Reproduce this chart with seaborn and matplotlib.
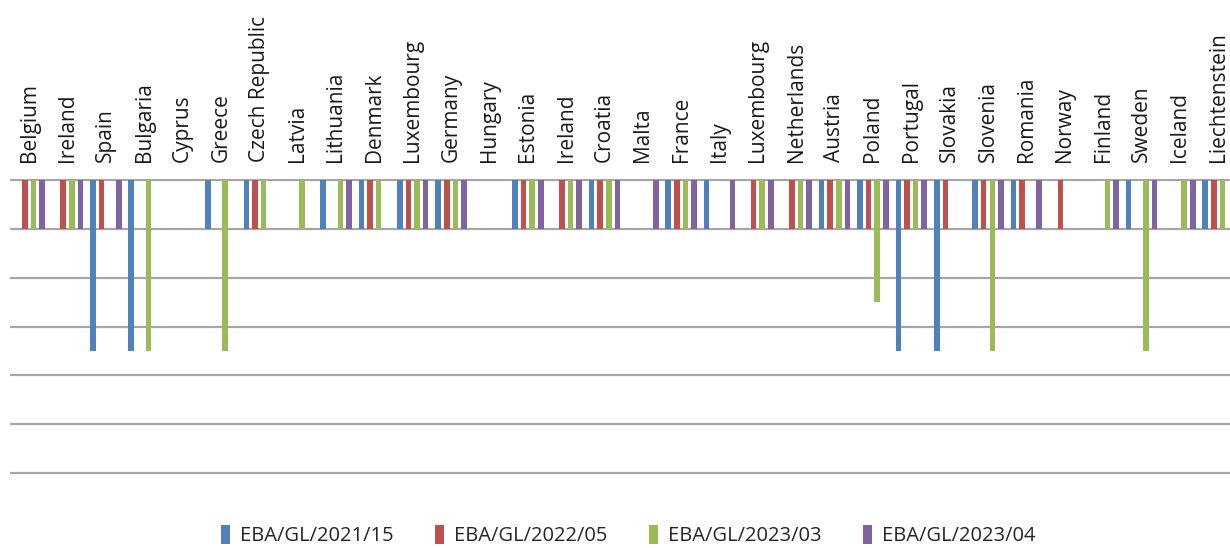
import matplotlib
matplotlib.use("Agg")
import matplotlib.pyplot as plt
import seaborn as sns
import pandas as pd
import numpy as np

# Countries in reporting order (some appear twice, one entry per guideline batch)
countries = [
    "Belgium", "Ireland", "Spain", "Bulgaria", "Cyprus", "Greece",
    "Czech Republic", "Latvia", "Lithuania", "Denmark", "Luxembourg",
    "Germany", "Hungary", "Estonia", "Ireland", "Croatia", "Malta",
    "France", "Italy", "Luxembourg", "Netherlands", "Austria", "Poland",
    "Portugal", "Slovakia", "Slovenia", "Romania", "Norway", "Finland",
    "Sweden", "Iceland", "Liechtenstein",
]

series = ["EBA/GL/2021/15", "EBA/GL/2022/05", "EBA/GL/2023/03", "EBA/GL/2023/04"]
colors = ["#4F81BD", "#C0504D", "#9BBB59", "#8064A2"]

N = None
gl_2021_15 = [N, N, -3.5, -3.5, N, -1, -1, N, -1, -1, -1, -1, N, -1, N, -1,
              N, -1, -1, N, N, -1, -1, -3.5, -3.5, -1, -1, N, N, -1, N, -1]
gl_2022_05 = [-1, -1, -1, N, N, N, -1, N, N, -1, -1, -1, N, -1, -1, -1,
              N, -1, N, -1, -1, -1, -1, -1, -1, -1, -1, -1, N, N, N, -1]
gl_2023_03 = [-1, -1, N, -3.5, N, -3.5, -1, -1, -1, -1, -1, -1, N, -1, -1, -1,
              N, -1, N, -1, -1, -1, -2.5, -1, N, -3.5, N, N, -1, -3.5, -1, -1]
gl_2023_04 = [-1, -1, -1, N, N, N, N, N, -1, N, -1, -1, N, -1, -1, -1,
              -1, -1, -1, -1, -1, -1, -1, -1, N, -1, -1, N, -1, -1, -1, N]

values = [gl_2021_15, gl_2022_05, gl_2023_03, gl_2023_04]

rows = []
for name, vals in zip(series, values):
    for pos, v in enumerate(vals):
        if v is not None:
            rows.append({"pos": pos, "series": name, "value": v})
df = pd.DataFrame(rows)

sns.set_style("white")
plt.rcParams["font.family"] = ["Open Sans", "DejaVu Sans"]

fig = plt.figure(figsize=(12.3, 5.48), dpi=100)
ax = fig.add_axes([10 / 1230, 1 - 475 / 548, 1220 / 1230, (475 - 179) / 548])

sns.barplot(
    data=df, x="pos", y="value", hue="series",
    order=list(range(len(countries))), hue_order=series,
    palette=colors, width=0.9, gap=0.35, errorbar=None,
    saturation=1, linewidth=0, ax=ax,
)

ax.set_ylim(-6.04, 0.02)
ax.set_xlim(-0.5, 31.31)
ax.set_yticks(np.arange(-6, 1, 1))
ax.set_yticklabels([])
ax.tick_params(axis="y", length=0)
ax.yaxis.grid(True, color="#A6A6A6", linewidth=1.6)
ax.set_axisbelow(True)
for s in ax.spines.values():
    s.set_visible(False)

ax.xaxis.tick_top()
ax.set_xticks(range(len(countries)))
ax.set_xticklabels(countries, rotation=90, fontsize=15, color="#1a1a1a")
ax.tick_params(axis="x", length=0, pad=12)
ax.set_xlabel("")
ax.set_ylabel("")

handles, labels = ax.get_legend_handles_labels()
ax.get_legend().remove()
fig.legend(
    handles, labels, loc="lower center", bbox_to_anchor=(0.511, -0.03),
    ncol=4, frameon=False, fontsize=14.5, handlelength=0.45, handleheight=1.1,
    handletextpad=0.5, columnspacing=2.05,
)

fig.savefig("out.png", dpi=100, facecolor="white")
